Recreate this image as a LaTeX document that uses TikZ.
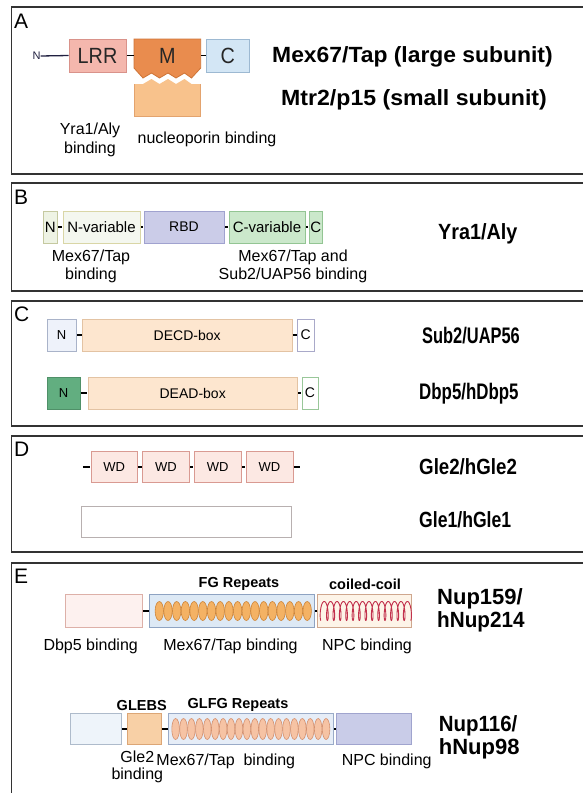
\documentclass[tikz,border=0pt]{standalone}
\usepackage{fontspec}
\setmainfont{Liberation Sans}
\newcommand\myfs[2]{\fontsize{#1}{#2}\selectfont}
\definecolor{lrrF}{HTML}{F4B7AD}\definecolor{lrrD}{HTML}{D9928A}
\definecolor{mF}{HTML}{E98C4E}\definecolor{mD}{HTML}{CF7436}
\definecolor{caF}{HTML}{D3E6F5}\definecolor{caD}{HTML}{9DB9D2}
\definecolor{mtrF}{HTML}{F8C28C}\definecolor{mtrD}{HTML}{E3A36E}
\definecolor{bnF}{HTML}{EEF3E4}\definecolor{bnD}{HTML}{C5C9A0}
\definecolor{nvF}{HTML}{F4F7EF}\definecolor{nvD}{HTML}{D9D6A6}
\definecolor{rbdF}{HTML}{CBCCE8}\definecolor{rbdD}{HTML}{A0A2CF}
\definecolor{cvF}{HTML}{CBE8CB}\definecolor{cvD}{HTML}{93C593}
\definecolor{snF}{HTML}{EEF2FA}\definecolor{snD}{HTML}{A9B3C9}
\definecolor{boxF}{HTML}{FDE6CF}\definecolor{boxD}{HTML}{E3C3A3}
\definecolor{scD}{HTML}{A9A9C9}
\definecolor{dnF}{HTML}{62AE80}\definecolor{dnD}{HTML}{4F9068}
\definecolor{dcD}{HTML}{99C799}
\definecolor{wdF}{HTML}{FCE8E3}\definecolor{wdD}{HTML}{D99A92}
\definecolor{g1D}{HTML}{B8B0B0}
\definecolor{e1F}{HTML}{FDF1EF}\definecolor{e1D}{HTML}{DDB0A8}
\definecolor{fgF}{HTML}{DDE9F5}\definecolor{fgD}{HTML}{8EA3C2}
\definecolor{ccF}{HTML}{FDF4E8}\definecolor{ccD}{HTML}{CFA78E}
\definecolor{ovF}{HTML}{F4B264}\definecolor{ovD}{HTML}{CD8438}
\definecolor{coilC}{HTML}{C2304C}
\definecolor{f1F}{HTML}{EEF4FA}\definecolor{f1D}{HTML}{AEBBCB}
\definecolor{glF}{HTML}{F8D0A6}\definecolor{glD}{HTML}{DCA676}
\definecolor{gfF}{HTML}{E6EDF7}\definecolor{gfD}{HTML}{9AABC8}
\definecolor{o2F}{HTML}{F6C3A4}\definecolor{o2D}{HTML}{D4906E}
\definecolor{npF}{HTML}{C9CCE8}\definecolor{npD}{HTML}{A0A4CE}
\definecolor{navy}{HTML}{202040}
\begin{document}
\begin{tikzpicture}[x=1pt,y=-1pt,
  dom/.style={draw, line width=0.9pt, inner sep=0pt, minimum height=32pt, font=\myfs{14}{16}},
  lnk/.style={line width=1.7pt, black, shorten <=0.3pt, shorten >=0.3pt},
  panel/.style={draw=black!80, line width=1.2pt},
  plabel/.style={font=\myfs{21}{24}, anchor=west, inner sep=0pt},
  ttl/.style={font=\bfseries\myfs{22}{24}, anchor=west, inner sep=0pt},
  note/.style={font=\myfs{16}{17}, align=center, inner sep=0pt},
  hdr/.style={font=\bfseries\myfs{14.5}{16}, inner sep=0pt},
  oval/.style={line width=0.6pt}]
\useasboundingbox (0,0) rectangle (583,793);
\clip (0,0) rectangle (583,793);
\fill[white] (0,0) rectangle (583,793);
% panels
\draw[panel] (11.5,7) rectangle (600,174);
\draw[panel] (11.5,183) rectangle (600,291);
\draw[panel] (11.5,301) rectangle (600,426);
\draw[panel] (11.5,436) rectangle (600,552);
\draw[panel] (11.5,563) rectangle (600,820);
\node[plabel] (pA) at (14,21) {A};
\node[plabel] (pB) at (14,197) {B};
\node[plabel] (pC) at (14,314) {C};
\node[plabel] (pD) at (14,449) {D};
\node[plabel] (pE) at (14,576) {E};

% ---------- A
\node[font=\myfs{11}{12}, inner sep=0pt, text=navy] (nA) at (36.5,56) {N};
\node[dom, fill=lrrF, draw=lrrD, minimum width=57pt, minimum height=33pt, font=\myfs{22}{24}, text=black!85] (LRR) at (97.5,55.5) {\scalebox{0.9}[1]{LRR}};
\fill[mtrF] (134,84) -- (143,84) -- (151.5,79) -- (159.5,84) -- (168,79) -- (176,84) -- (184.5,79) -- (191.5,84) -- (200.7,84) -- (200.7,116.7) -- (134,116.7) -- cycle;
\draw[mtrD, line width=0.6pt] (134,84) -- (134,116.7) -- (200.7,116.7) -- (200.7,84);
\filldraw[fill=mF, draw=mD, line width=0.8pt] (134,39) -- (200.7,39) -- (200.7,68) -- (191.5,78) -- (184.5,73) -- (176,78) -- (168,73) -- (159.5,78) -- (151.5,73) -- (143,78) -- (134,68) -- cycle;
\node[inner sep=0pt, minimum width=66.7pt, minimum height=33pt, font=\myfs{22}{24}, text=black!85] (M) at (167.35,55.5) {\scalebox{0.9}[1]{M}};
\node[dom, fill=caF, draw=caD, minimum width=42.3pt, minimum height=33pt, font=\myfs{22}{24}, text=black!85] (CA) at (227.85,55.5) {\scalebox{0.9}[1]{C}};
\draw[navy, line width=1.3pt] (nA.east) -- (LRR.west);
\draw[lnk] (LRR.east) -- (M.west);
\draw[lnk] (M.east) -- (CA.west);
\node[ttl] (tA1) at (272,57) {\scalebox{1.04}[1]{Mex67/Tap (large subunit)}};
\node[ttl] (tA2) at (281,100) {\scalebox{1.05}[1]{Mtr2/p15 (small subunit)}};
\node[note, font=\myfs{16}{19}] (lA1) at (90,140) {Yra1/Aly\\binding};
\node[note] (lA2) at (207,139) {nucleoporin binding};

% ---------- B
\node[dom, fill=bnF, draw=bnD, minimum width=13.5pt, font=\myfs{15}{16}] (BN) at (50.3,227) {N};
\node[dom, fill=nvF, draw=nvD, minimum width=77pt, font=\myfs{15}{16}] (BNV) at (101.5,227) {N-variable};
\node[dom, fill=rbdF, draw=rbdD, minimum width=80pt] (RBD) at (184,227) {RBD};
\node[dom, fill=cvF, draw=cvD, minimum width=76pt, font=\myfs{15}{16}] (BCV) at (267,227) {C-variable};
\node[dom, fill=cvF, draw=cvD, minimum width=13.5pt, font=\myfs{15}{16}] (BC) at (315.8,227) {C};
\draw[lnk] (BN.east) -- (BNV.west);
\draw[lnk] (BNV.east) -- (RBD.west);
\draw[lnk] (RBD.east) -- (BCV.west);
\draw[lnk] (BCV.east) -- (BC.west);
\node[note, font=\myfs{16}{18}] (lB1) at (91,266) {Mex67/Tap\\binding};
\node[note, font=\myfs{16}{18}] (lB2) at (293,266) {Mex67/Tap and\\Sub2/UAP56 binding};
\node[ttl] (tB) at (438,234) {\scalebox{0.9}[1]{Yra1/Aly}};

% ---------- C
\node[dom, fill=snF, draw=snD, minimum width=29pt, font=\myfs{13}{15}] (SN) at (61.5,335) {N};
\node[dom, fill=boxF, draw=boxD, minimum width=209.5pt] (DECD) at (187.2,335) {DECD-box};
\node[dom, fill=white, draw=scD, minimum width=16.6pt] (SC) at (305.7,335) {C};
\draw[lnk] (SN.east) -- (DECD.west);
\draw[lnk] (DECD.east) -- (SC.west);
\node[dom, fill=dnF, draw=dnD, minimum width=33pt, font=\myfs{13}{15}] (DN) at (63.5,393) {N};
\node[dom, fill=boxF, draw=boxD, minimum width=209.4pt] (DEAD) at (192.7,393) {DEAD-box};
\node[dom, fill=white, draw=dcD, minimum width=16pt] (DC) at (310,393) {C};
\draw[lnk] (DN.east) -- (DEAD.west);
\draw[lnk] (DEAD.east) -- (DC.west);
\node[ttl, font=\bfseries\myfs{22.5}{24}] (tC1) at (422,336) {\scalebox{0.73}[1]{Sub2/UAP56}};
\node[ttl, font=\bfseries\myfs{22.5}{24}] (tC2) at (419,394) {\scalebox{0.75}[1]{Dbp5/hDbp5}};

% ---------- D
\node[dom, fill=wdF, draw=wdD, minimum width=46.5pt, minimum height=31.6pt, font=\myfs{13}{15}] (WD1) at (114.3,467) {WD};
\node[dom, fill=wdF, draw=wdD, minimum width=47.2pt, minimum height=31.6pt, font=\myfs{13}{15}] (WD2) at (166,467) {WD};
\node[dom, fill=wdF, draw=wdD, minimum width=47.6pt, minimum height=31.6pt, font=\myfs{13}{15}] (WD3) at (217.8,467) {WD};
\node[dom, fill=wdF, draw=wdD, minimum width=47pt, minimum height=31.6pt, font=\myfs{13}{15}] (WD4) at (269.5,467) {WD};
\coordinate (dL) at (82.5,467);
\coordinate (dR) at (300.4,467);
\draw[lnk] (dL) -- (WD1.west);
\draw[lnk] (WD1.east) -- (WD2.west);
\draw[lnk] (WD2.east) -- (WD3.west);
\draw[lnk] (WD3.east) -- (WD4.west);
\draw[lnk] (WD4.east) -- (dR);
\node[dom, fill=white, draw=g1D, minimum width=209.2pt, minimum height=31.6pt] (G1) at (186.4,522) {};
\node[ttl, font=\bfseries\myfs{22}{24}] (tD1) at (419,467) {\scalebox{0.85}[1]{Gle2/hGle2}};
\node[ttl, font=\bfseries\myfs{22}{24}] (tD2) at (419,520) {\scalebox{0.8}[1]{Gle1/hGle1}};

% ---------- E row 1
\node[dom, fill=e1F, draw=e1D, minimum width=76.5pt, minimum height=33pt] (E1) at (103.8,611) {};
\node[dom, fill=fgF, draw=fgD, minimum width=165pt, minimum height=33pt] (FG) at (232,611) {};
\node[dom, fill=ccF, draw=ccD, minimum width=94pt, minimum height=33pt] (CC) at (364.7,611) {};
\draw[lnk] (E1.east) -- (FG.west);
\draw[lnk] (FG.east) -- (CC.west);
\foreach \i in {0,...,17}
  \filldraw[oval, fill=ovF, draw=ovD] (159.3+8.7*\i,611) ellipse [x radius=4.2, y radius=9.5];
\begin{scope}[shift={(321,611)}]
  \draw[coilC, line width=0.9pt] plot[domain=0:5040, samples=560, smooth] ({0.0177778*\x - 2.2*sin(\x)}, {9.5*cos(\x)});
\end{scope}
\node[hdr] (hFG) at (239,584) {FG Repeats};
\node[hdr] (hCC) at (365,584) {coiled-coil};
\node[note] (lE1) at (90.7,646) {Dbp5 binding};
\node[note] (lE2) at (230.5,646) {Mex67/Tap binding};
\node[note] (lE3) at (367,646) {NPC binding};
\node[ttl] (tE1) at (437,599) {Nup159/};
\node[ttl] (tE2) at (437,622) {\scalebox{0.94}[1]{hNup214}};

% ---------- E row 2
\node[dom, fill=f1F, draw=f1D, minimum width=51.7pt, minimum height=31pt] (F1) at (95.8,729) {};
\node[dom, fill=glF, draw=glD, minimum width=34.4pt, minimum height=31pt] (GL) at (144.5,729) {};
\node[dom, fill=gfF, draw=gfD, minimum width=165pt, minimum height=31pt] (GF) at (250.8,729) {};
\node[dom, fill=npF, draw=npD, minimum width=75pt, minimum height=31pt] (NP) at (374.2,729) {};
\draw[lnk] (F1.east) -- (GL.west);
\draw[lnk] (GL.east) -- (GF.west);
\draw[lnk] (GF.east) -- (NP.west);
\foreach \i in {0,...,19}
  \filldraw[oval, fill=o2F, draw=o2D] (175.6+7.92*\i,729) ellipse [x radius=3.8, y radius=10.5];
\node[hdr] (hGL) at (141.7,705) {GLEBS};
\node[hdr] (hGF) at (238,705) {GLFG Repeats};
\node[note] (lF1) at (137.3,767) {Gle2\\binding};
\node[note] (lF2) at (225.8,761) {Mex67/Tap\ \ binding};
\node[note] (lF3) at (386.7,761) {NPC binding};
\node[ttl] (tF1) at (438.7,726) {\scalebox{0.93}[1]{Nup116/}};
\node[ttl] (tF2) at (438.7,749) {hNup98};
\end{tikzpicture}
\end{document}
